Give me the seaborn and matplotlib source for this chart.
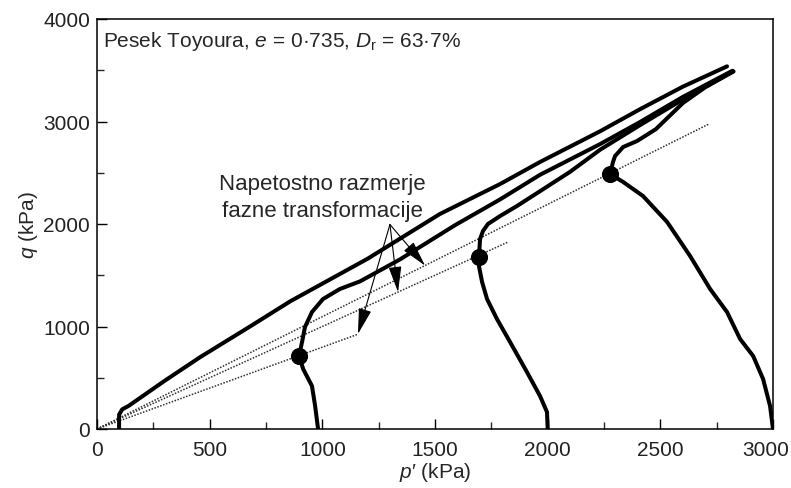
import matplotlib
matplotlib.use("Agg")
import matplotlib.pyplot as plt
import matplotlib.transforms as mtransforms
from matplotlib.ticker import MultipleLocator
import seaborn as sns

# ---- data (p' in kPa, q in kPa) ----
a_p = [98, 98, 112, 140, 300, 457, 679, 857, 1200, 1522, 1789, 1966, 2233, 2410, 2600, 2796]
a_q = [0, 140, 192, 225, 470, 700, 1000, 1245, 1660, 2098, 2390, 2605, 2905, 3120, 3340, 3538]

b_p = [981, 968, 954, 915, 897, 910, 923, 954, 1003, 1078, 1167, 1345, 1590, 1789, 1966, 2233, 2410, 2600, 2820]
b_q = [0, 224, 420, 585, 712, 849, 995, 1141, 1268, 1366, 1440, 1655, 1990, 2240, 2480, 2780, 2995, 3240, 3495]

c_p = [2000, 1997, 1966, 1908, 1833, 1775, 1731, 1709, 1695, 1695, 1700, 1713, 1735, 1789, 1864, 1966, 2100, 2233, 2410, 2600, 2822]
c_q = [0, 166, 322, 556, 849, 1073, 1268, 1434, 1590, 1680, 1854, 1932, 2000, 2078, 2176, 2320, 2510, 2725, 2965, 3215, 3490]

d_p = [3000, 2987, 2956, 2912, 2854, 2796, 2721, 2632, 2530, 2423, 2335, 2277, 2290, 2299, 2335, 2397, 2480, 2600, 2700, 2825]
d_q = [0, 224, 488, 712, 878, 1141, 1366, 1688, 2020, 2273, 2410, 2488, 2605, 2663, 2751, 2810, 2925, 3180, 3335, 3488]

# phase transformation points
pt_p = [897, 1695, 2277]
pt_q = [712, 1680, 2488]

# dotted phase-transformation stress-ratio lines (from origin to end)
ptl_end_p = [1160, 1824, 2716]
ptl_end_q = [926, 1824, 2976]

# arrows (from common origin to tips on the dotted lines)
arrow_from = (1300, 1995)
arrow_tip_p = [1456, 1336, 1158]
arrow_tip_q = [1594, 1336, 927]

x_ticks = [0, 500, 1000, 1500, 2000, 2500, 3000]
y_ticks = [0, 1000, 2000, 3000, 4000]

# ---- style ----
sns.set_style("ticks")
plt.rcParams["font.family"] = ["Liberation Sans", "DejaVu Sans"]
plt.rcParams["mathtext.fontset"] = "custom"
plt.rcParams["mathtext.it"] = "Liberation Sans:italic"
plt.rcParams["mathtext.rm"] = "Liberation Sans"
plt.rcParams["mathtext.default"] = "it"

fig = plt.figure(figsize=(7.91, 4.89), dpi=100)
ax = fig.add_axes([97 / 791, 1 - 430 / 489, (773 - 97) / 791, (430 - 20) / 489])

# dotted lines
for pe, qe in zip(ptl_end_p, ptl_end_q):
    sns.lineplot(x=[0, pe], y=[0, qe], sort=False, estimator=None, color="#303030",
                 linewidth=1.1, linestyle=(0, (1, 1)), ax=ax)

# stress paths
for p, q in [(a_p, a_q), (b_p, b_q), (c_p, c_q), (d_p, d_q)]:
    sns.lineplot(x=p, y=q, sort=False, estimator=None, color="black",
                 linewidth=2.9, ax=ax, solid_joinstyle="round", solid_capstyle="round")

sns.scatterplot(x=pt_p, y=pt_q, s=130, color="black", edgecolor="black", zorder=6, ax=ax)

# arrows
for tp, tq in zip(arrow_tip_p, arrow_tip_q):
    ax.annotate("", xy=(tp, tq), xytext=arrow_from,
                arrowprops=dict(arrowstyle="-|>,head_length=1.6,head_width=0.4",
                                mutation_scale=10, color="black", lw=0.8,
                                shrinkA=0, shrinkB=0))

ax.text(999, 2341, "Napetostno razmerje", ha="center", va="baseline", fontsize=16)
ax.text(999, 2078, "fazne transformacije", ha="center", va="baseline", fontsize=16)

ax.text(27, 3737, "Pesek Toyoura, $e$ = 0·735, $D_\\mathrm{r}$ = 63·7%",
        ha="left", va="baseline", fontsize=15)

ax.set_xlim(0, 3000)
ax.set_ylim(0, 4000)
ax.set_xticks(x_ticks)
ax.set_yticks(y_ticks)
ax.xaxis.set_minor_locator(MultipleLocator(250))
ax.yaxis.set_minor_locator(MultipleLocator(500))
ax.tick_params(which="major", direction="in", length=7, width=1.0, labelsize=15,
               colors="black", labelcolor="#222222")
ax.tick_params(axis="x", which="major", pad=8)
ax.tick_params(axis="y", which="major", pad=5)
ax.tick_params(which="minor", direction="in", length=5, width=1.0)

# nudge the last x tick label left so it stays inside the figure
fig.canvas.draw()
last = ax.get_xticklabels()[-1]
last.set_transform(last.get_transform() + mtransforms.ScaledTranslation(-7 / 100, 0, fig.dpi_scale_trans))

ax.set_xlabel("$p$\u2032 (kPa)", fontsize=15, labelpad=1)
ax.set_ylabel("$q$ (kPa)", fontsize=15, labelpad=2)
for s in ax.spines.values():
    s.set_linewidth(1.1)
    s.set_color("black")

fig.savefig("out.png", dpi=100)
